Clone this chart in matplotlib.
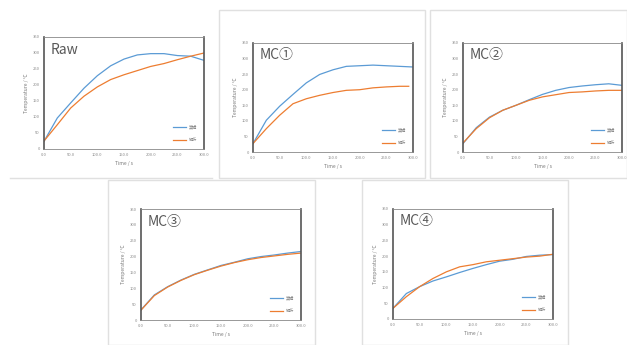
import matplotlib
matplotlib.use("Agg")
import matplotlib.pyplot as plt
from matplotlib.patches import Rectangle

plt.rcParams['font.family'] = ['Noto Sans CJK JP', 'DejaVu Sans']

W, H = 627, 345

time = [0, 25, 50, 75, 100, 125, 150, 175, 200, 225, 250, 275, 300]
time_mc1_orange = [0, 25, 50, 75, 100, 125, 150, 175, 200, 225, 250, 275, 292]

raw_blue = [24, 97, 144, 190, 229, 260, 281, 294, 298, 298, 292, 290, 277]
raw_orange = [25, 76, 128, 165, 194, 217, 232, 245, 258, 267, 279, 290, 300]
mc1_blue = [27, 102, 147, 185, 222, 249, 264, 275, 277, 279, 277, 275, 273]
mc1_orange = [27, 75, 118, 155, 171, 182, 191, 198, 200, 206, 209, 211, 211]
mc2_blue = [27, 78, 112, 134, 150, 168, 185, 198, 207, 212, 216, 219, 214]
mc2_orange = [29, 75, 110, 134, 150, 166, 177, 184, 191, 193, 196, 198, 198]
mc3_blue = [32, 79, 105, 126, 144, 158, 172, 182, 193, 200, 205, 211, 216]
mc3_orange = [31, 77, 104, 125, 143, 157, 170, 181, 190, 197, 202, 207, 211]
mc4_blue = [34, 81, 103, 121, 134, 148, 161, 173, 184, 190, 199, 203, 205]
mc4_orange = [34, 71, 103, 129, 150, 166, 173, 182, 187, 192, 197, 200, 206]

titles = ["Raw", "MC①", "MC②", "MC③", "MC④"]
legend_labels = ["実験", "解析"]
xticks = [0, 50, 100, 150, 200, 250, 300]
yticks = [0, 50, 100, 150, 200, 250, 300, 350]

BLUE = "#5B9BD5"
ORANGE = "#ED7D31"

# plot frames in pixels: left, top, right, bottom
frames = [(44, 37, 204, 149), (253, 43, 413, 152), (463, 43, 622, 152),
          (141, 209, 301, 320), (393, 209, 553, 319)]
# card borders in pixels
cards = [(219, 10, 425, 178), (430, 10, 627, 178),
         (108, 180, 315, 345), (362, 180, 568, 345)]

series = [
    (time, raw_blue, time, raw_orange),
    (time, mc1_blue, time_mc1_orange, mc1_orange),
    (time, mc2_blue, time, mc2_orange),
    (time, mc3_blue, time, mc3_orange),
    (time, mc4_blue, time, mc4_orange),
]

fig = plt.figure(figsize=(W / 100, H / 100), dpi=100)
fig.patch.set_facecolor("white")

for (l, t, r, b) in cards:
    fig.patches.append(Rectangle((l / W, 1 - b / H), (r - l) / W, (b - t) / H,
                                 transform=fig.transFigure, fill=False,
                                 edgecolor="#e0e0e0", linewidth=1))
fig.add_artist(plt.Line2D([10 / W, 212 / W], [1 - 178 / H, 1 - 178 / H],
                          transform=fig.transFigure, color="#e0e0e0", lw=1))

for i, (l, t, r, b) in enumerate(frames):
    ax = fig.add_axes([l / W, 1 - b / H, (r - l) / W, (b - t) / H])
    tb, yb, to, yo = series[i]
    ax.plot(tb, yb, color=BLUE, lw=0.9)
    ax.plot(to, yo, color=ORANGE, lw=0.9)
    ax.set_xlim(0, 300)
    ax.set_ylim(0, 350)
    ax.set_xticks(xticks)
    ax.set_xticklabels([f"{v:.1f}" for v in xticks])
    ax.set_yticks(yticks)
    ax.tick_params(labelsize=3, colors="#888888", length=0, pad=3)
    for s in ["left", "right"]:
        ax.spines[s].set_color("#555555")
        ax.spines[s].set_linewidth(1.2)
    for s in ["top", "bottom"]:
        ax.spines[s].set_color("#888888")
        ax.spines[s].set_linewidth(0.6)
    ax.set_xlabel("Time / s", fontsize=3.5, color="#777777", labelpad=3)
    ax.set_ylabel("Temperature / °C", fontsize=3.5, color="#777777", labelpad=3)
    ax.text(0.04, 0.95, titles[i], transform=ax.transAxes, fontsize=10,
            color="#595959", va="top", ha="left")
    ax.legend(legend_labels, loc="lower right", fontsize=3, frameon=False,
              handlelength=3, labelspacing=2.2, borderaxespad=1.2,
              labelcolor="#888888")

fig.savefig("out.png", dpi=100)
